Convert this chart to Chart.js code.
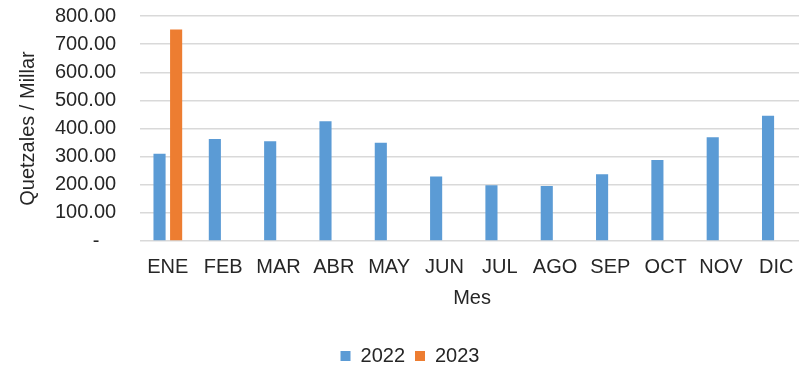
<!DOCTYPE html>
<html>
<head>
<meta charset="utf-8">
<script src="https://cdn.jsdelivr.net/npm/chart.js@4/dist/chart.umd.min.js"></script>
<style>
html,body{margin:0;padding:0;background:#fff;overflow:hidden;width:799px;height:368px;}
canvas{display:block;}
</style>
</head>
<body>
<canvas id="c" width="804" height="368"></canvas>
<script>
const categories = ["ENE","FEB","MAR","ABR","MAY","JUN","JUL","AGO","SEP","OCT","NOV","DIC"];
const values2022 = [310, 363, 355, 426, 349, 229, 198, 196, 237, 288, 369, 445];
const values2023 = [752, null, null, null, null, null, null, null, null, null, null, null];
const seriesNames = ["2022", "2023"];
const yTicks = [0, 100, 200, 300, 400, 500, 600, 700, 800];

const FONT = "'Liberation Sans', Arial, sans-serif";
const TXT = "#262626";

new Chart(document.getElementById('c'), {
  type: 'bar',
  data: {
    labels: categories,
    datasets: [
      { label: seriesNames[0], data: values2022, backgroundColor: '#5B9BD5', categoryPercentage: 0.6, barPercentage: 0.73 },
      { label: seriesNames[1], data: values2023, backgroundColor: '#ED7D31', categoryPercentage: 0.6, barPercentage: 0.73 }
    ]
  },
  options: {
    responsive: false,
    animation: false,
    layout: { padding: { top: 16, left: 16, right: 0, bottom: -8 } },
    plugins: {
      tooltip: { enabled: false },
      legend: {
        position: 'bottom',
        labels: {
          color: TXT,
          font: { family: FONT, size: 20 },
          boxWidth: 10, boxHeight: 10,
          padding: 10
        }
      }
    },
    scales: {
      x: {
        grid: { display: false },
        border: { display: false },
        ticks: { color: TXT, font: { family: FONT, size: 20 }, padding: 6, maxRotation: 0, autoSkip: false },
        title: { display: true, text: 'Mes', color: TXT, font: { family: FONT, size: 20 }, padding: { top: 1, bottom: 26 } }
      },
      y: {
        min: 0, max: 800,
        afterBuildTicks: (axis) => { axis.ticks = yTicks.map(v => ({ value: v })); },
        grid: { color: '#d9d9d9', lineWidth: 1.5, drawTicks: true, tickLength: 24, tickColor: 'rgba(0,0,0,0)' },
        border: { display: false },
        ticks: {
          color: TXT, font: { family: FONT, size: 20 }, padding: 0, autoSkip: false,
          callback: (v) => v === 0 ? '-   ' : Number(v).toFixed(2)
        },
        title: { display: true, text: 'Quetzales / Millar', color: TXT, font: { family: FONT, size: 20 }, padding: { top: 0, bottom: 15 } }
      }
    }
  }
});
</script>
</body>
</html>
